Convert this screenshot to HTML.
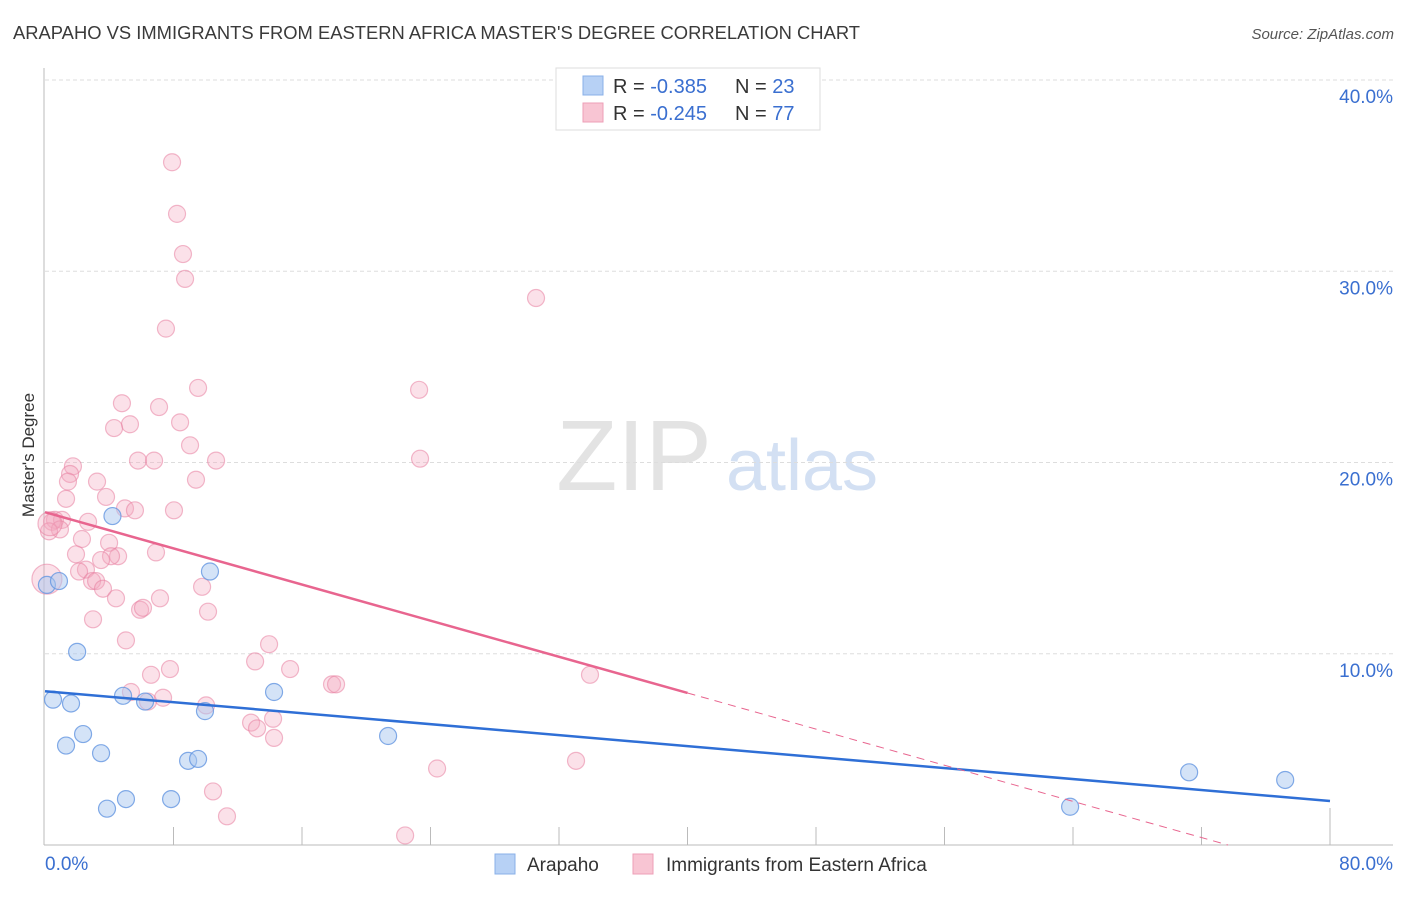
<!DOCTYPE html>
<html><head><meta charset="utf-8"><style>
body{margin:0;background:#fff;font-family:"Liberation Sans",sans-serif}
svg text{font-family:"Liberation Sans",sans-serif}
</style></head><body>
<svg id="chart" width="1406" height="892" xmlns="http://www.w3.org/2000/svg">
<text x="13" y="39" font-size="18" fill="#3a3a3a" textLength="847" lengthAdjust="spacingAndGlyphs">ARAPAHO VS IMMIGRANTS FROM EASTERN AFRICA MASTER'S DEGREE CORRELATION CHART</text>
<text x="1394" y="39" font-size="15" fill="#555" font-style="italic" text-anchor="end">Source: ZipAtlas.com</text>
<text transform="translate(34,455) rotate(-90)" font-size="17" fill="#333" text-anchor="middle">Master's Degree</text>
<g>
<text x="634" y="490" font-size="100" fill="#e3e3e3" text-anchor="middle" font-family="Liberation Serif,serif">ZIP</text>
<text x="802" y="490" font-size="72" fill="#d3e0f3" text-anchor="middle">atlas</text>
</g>
<g id="grid"></g>
<g id="axes"></g>
<g id="pts"></g>
<g id="lines"></g>
<g>
<rect x="556" y="68" width="264" height="62" fill="#fff" stroke="#ddd"/>
<rect x="583" y="76" width="20" height="19" fill="#b7d1f5" stroke="#8ab0e8"/>
<rect x="583" y="103" width="20" height="19" fill="#f8c5d3" stroke="#ee9fb7"/>
<text x="613" y="93" font-size="20" fill="#333">R = <tspan fill="#3a6fd0">-0.385</tspan><tspan x="735">N = </tspan><tspan fill="#3a6fd0">23</tspan></text>
<text x="613" y="120" font-size="20" fill="#333">R = <tspan fill="#3a6fd0">-0.245</tspan><tspan x="735">N = </tspan><tspan fill="#3a6fd0">77</tspan></text>
</g>
<g>
<rect x="495" y="854" width="20" height="20" fill="#b7d1f5" stroke="#8ab0e8"/>
<text x="527" y="871" font-size="19" fill="#333">Arapaho</text>
<rect x="633" y="854" width="20" height="20" fill="#f8c5d3" stroke="#ee9fb7"/>
<text x="666" y="871" font-size="19" fill="#333">Immigrants from Eastern Africa</text>
</g>
</svg>
<script>
const yTicks=[10,20,30,40];
const yTickLabels=["10.0%","20.0%","30.0%","40.0%"];
const xTickVals=[0,8,16,24,32,40,48,56,64,72,80];
const arapahoX=[0.12,0.87,0.5,2.0,4.2,1.62,2.37,1.31,3.49,4.86,6.23,5.04,3.86,7.85,8.91,9.53,9.96,10.27,14.26,21.36,71.23,77.21,63.82];
const arapahoY=[13.6,13.8,7.6,10.1,17.2,7.4,5.8,5.2,4.8,7.8,7.5,2.4,1.9,2.4,4.4,4.5,7.0,14.3,8.0,5.7,3.8,3.4,2.0];
const immX=[7.91,8.22,8.59,8.72,7.53,30.57,9.53,23.29,4.79,7.1,8.41,5.29,4.30,9.03,5.79,6.79,10.65,23.35,1.74,1.56,1.43,3.24,9.40,1.31,3.80,4.98,5.60,8.03,0.62,1.06,0.44,2.68,0.93,0.25,2.30,3.99,1.93,4.55,4.11,3.49,6.91,2.55,2.12,2.93,3.18,3.61,9.78,4.42,7.16,5.92,6.10,2.99,10.15,5.04,13.95,13.08,7.78,15.26,6.60,17.87,18.12,33.93,5.35,7.35,6.41,10.03,12.83,14.20,13.20,14.26,24.41,33.06,10.46,11.33,22.42,0.12,0.31];
const immY=[35.7,33.0,30.9,29.6,27.0,28.6,23.9,23.8,23.1,22.9,22.1,22.0,21.8,20.9,20.1,20.1,20.1,20.2,19.8,19.4,19.0,19.0,19.1,18.1,18.2,17.6,17.5,17.5,17.0,17.0,16.9,16.9,16.5,16.4,16.0,15.8,15.2,15.1,15.1,14.9,15.3,14.4,14.3,13.8,13.8,13.4,13.5,12.9,12.9,12.3,12.4,11.8,12.2,10.7,10.5,9.6,9.2,9.2,8.9,8.4,8.4,8.9,8.0,7.7,7.5,7.3,6.4,6.6,6.1,5.6,4.0,4.4,2.8,1.5,0.5,13.9,16.8];
const immBig=[75,76];
const trendArapaho=[8.04,2.3];
const trendImm=[17.4,-1.5];
const trendImmSolidEnd=40;

const NS="http://www.w3.org/2000/svg";
const X0=45,X1=1330,YB=845,YT=80;
function xs(v){return X0+(X1-X0)*v/80;}
function ys(v){return YB-(YB-YT)*v/40;}
function mk(tag,attrs,parent){const e=document.createElementNS(NS,tag);for(const k in attrs)e.setAttribute(k,attrs[k]);parent.appendChild(e);return e;}
const grid=document.getElementById('grid'),axes=document.getElementById('axes'),pts=document.getElementById('pts'),lines=document.getElementById('lines');
yTicks.forEach((t,i)=>{
 const l=mk('line',{x1:45,x2:1393,y1:ys(t),y2:ys(t),stroke:'#ddd','stroke-dasharray':'4,3'},grid);
 
 
 const tx=mk('text',{x:1393,y:ys(t)+23,'font-size':19,fill:'#3a6fd0','text-anchor':'end'},axes);
 tx.textContent=yTickLabels[i];
 
 
});
let a=mk('line',{x1:44,x2:44,y1:68,y2:845,stroke:'#bbb'},axes);


a=mk('line',{x1:44,x2:1393,y1:845,y2:845,stroke:'#bbb'},axes);


xTickVals.forEach((t,i)=>{
 if(i===0)return;
 const l=mk('line',{x1:xs(t),x2:xs(t),y1:(i===10?808:827),y2:845,stroke:'#bbb'},axes);
 
 
});
let t=mk('text',{x:45,y:870,'font-size':19,fill:'#3a6fd0'},axes);t.textContent='0.0%';


t=mk('text',{x:1393,y:870,'font-size':19,fill:'#3a6fd0','text-anchor':'end'},axes);t.textContent='80.0%';


immX.forEach((x,i)=>{
 const big=immBig.indexOf(i);
 const c=mk('circle',{cx:xs(x),cy:ys(immY[i]),r:big===0?15:(big===1?12:8.5),fill:'rgba(244,170,192,0.35)',stroke:'rgba(232,128,160,0.55)','stroke-width':1.2},pts);
 
 
});
arapahoX.forEach((x,i)=>{
 const c=mk('circle',{cx:xs(x),cy:ys(arapahoY[i]),r:8.5,fill:'rgba(170,200,240,0.5)',stroke:'rgba(100,150,225,0.8)','stroke-width':1.2},pts);
 
 
});
let l=mk('line',{x1:xs(0),y1:ys(trendArapaho[0]),x2:xs(80),y2:ys(trendArapaho[1]),stroke:'#2f6fd6','stroke-width':2.5},lines);


const slope=(trendImm[1]-trendImm[0])/80;
const yAt=x=>trendImm[0]+slope*x;
l=mk('line',{x1:xs(0),y1:ys(trendImm[0]),x2:xs(trendImmSolidEnd),y2:ys(yAt(trendImmSolidEnd)),stroke:'#e8658f','stroke-width':2.5},lines);


const xz=-trendImm[0]/slope;
l=mk('line',{x1:xs(trendImmSolidEnd),y1:ys(yAt(trendImmSolidEnd)),x2:xs(xz),y2:ys(0),stroke:'#e8658f','stroke-width':1,'stroke-dasharray':'8,6'},lines);


</script>
</body></html>
